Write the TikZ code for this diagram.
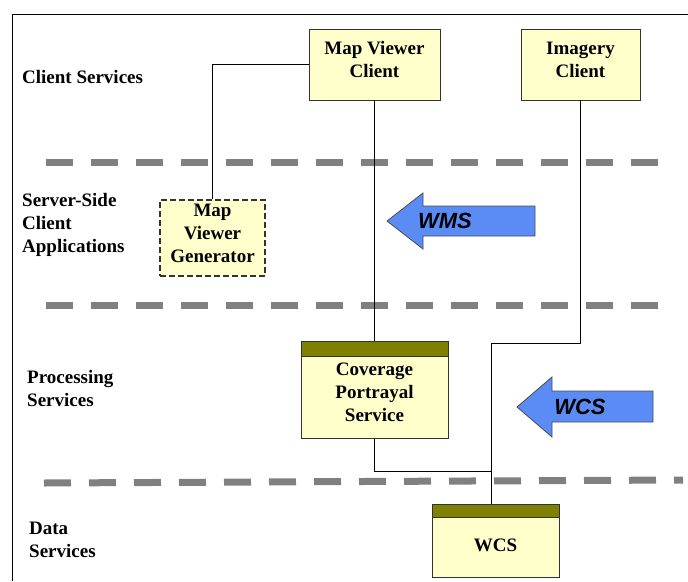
\documentclass[tikz,border=0pt]{standalone}
\usepackage{fontspec}
\setmainfont{Liberation Serif}
\setsansfont{Liberation Sans}
\usetikzlibrary{positioning}
\definecolor{boxfill}{RGB}{255,255,204}
\definecolor{olivebar}{RGB}{128,128,0}
\definecolor{arrowblue}{RGB}{91,140,245}
\definecolor{tiergray}{RGB}{128,128,128}

\begin{document}
\begin{tikzpicture}[x=1pt, y=-1pt,
  box/.style={draw=black!80, fill=boxfill, align=center, inner sep=0pt,
    text depth=10pt, font=\fontsize{19}{23}\selectfont\bfseries},
  header/.style={draw=black!80, fill=olivebar, inner sep=0pt},
  tier/.style={line width=7pt, tiergray, dash pattern=on 27pt off 18pt},
  lbl/.style={anchor=west, align=left, inner sep=0pt,
    font=\fontsize{19}{23}\selectfont\bfseries},
  wire/.style={thin, black},
  bigarrow/.style={draw=black!70, fill=arrowblue, line width=0.8pt},
  arrowtext/.style={font=\fontsize{22}{26}\selectfont\sffamily\bfseries\itshape}]
  \useasboundingbox (0,0) rectangle (688,581);
  % frame
  \draw[thin] (688,14) -- (12,14) -- (12,581);
  % tier separators
  \draw[tier] (46,162) -- (665,162);
  \draw[tier] (46,305) -- (665,305);
  \draw[tier] (44,483) -- (683,480);
  % tier names
  \node[lbl] (client) at (22,77) {Client Services};
  \node[lbl] (serverside) at (22,225) {Server-Side\\Client\\Applications};
  \node[lbl] (processing) at (27,388) {Processing\\Services};
  \node[lbl] (data) at (29,540) {Data\\Services};
  % clients
  \node[box, minimum width=131, minimum height=71] (mvc) at (374.5,64.5) {Map Viewer\\Client};
  \node[box, minimum width=119, minimum height=71] (img) at (580.5,64.5) {Imagery\\Client};
  \node[box, dash pattern=on 6pt off 3pt, line width=1.2pt, minimum width=105, minimum height=76] (gen) at (212.5,238) {Map\\Viewer\\Generator};
  % services
  \node[header, minimum width=147, minimum height=15] (cpshead) at (374.5,348.5) {};
  \node[box, minimum width=147, minimum height=82, below=0pt of cpshead] (cps) {Coverage\\Portrayal\\Service};
  \node[header, minimum width=127, minimum height=13] (wcshead) at (495.5,510.5) {};
  \node[box, text depth=4pt, minimum width=127, minimum height=60, below=0pt of wcshead] (wcs) {WCS};
  % interface arrows
  \draw[bigarrow] (535,206) -- (423,206) -- (423,193) -- (387,221)
    -- (423,249) -- (423,236) -- (535,236) -- cycle;
  \node[arrowtext] (wms) at (445,221) {WMS};
  \draw[bigarrow] (653,391) -- (552,391) -- (552,377) -- (517,407)
    -- (552,437) -- (552,422) -- (653,422) -- cycle;
  \node[arrowtext] (wcsif) at (580,407) {WCS};
  % connections
  \coordinate (j1) at (491,343);
  \coordinate (j2) at (491,471);
  \draw[wire] (mvc.west) -| (gen.north);
  \draw[wire] (mvc.south) -- (cpshead.north);
  \draw[wire] (img.south) |- (j1) -- (j1 |- wcshead.north);
  \draw[wire] (cps.south) |- (j2);
\end{tikzpicture}
\end{document}
